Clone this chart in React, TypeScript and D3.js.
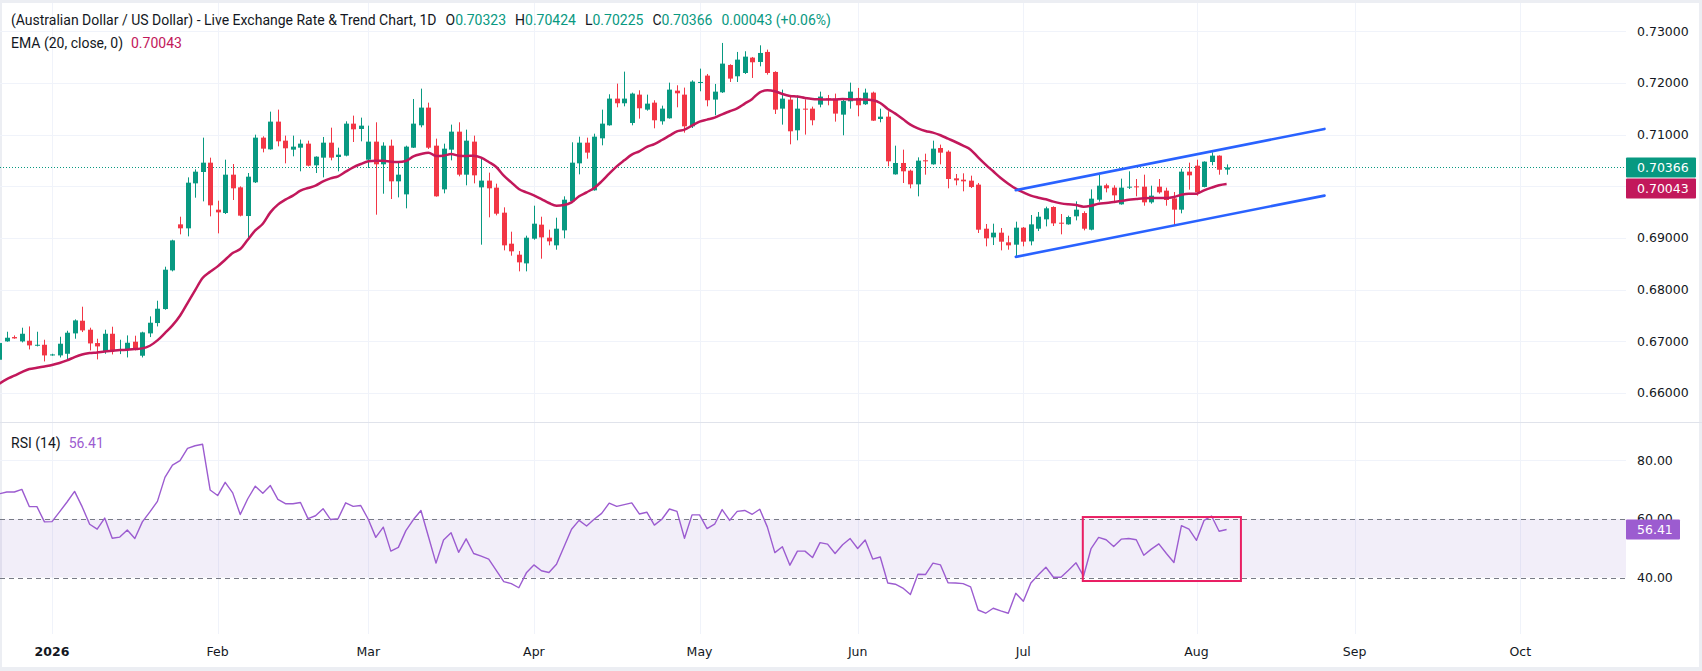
import * as d3 from "d3";

const WIDTH = 1702;
const HEIGHT = 671;

// bar 0 = 1 Jan 2026, one slot per weekday (daily FX bars)
const firstBar = -7;

const opens = [
  0.66645, 0.67, 0.67084, 0.67, 0.67013, 0.66916, 0.66935, 0.66729, 0.66729, 0.66761,
  0.67155, 0.674, 0.67226, 0.66968, 0.66806, 0.67148, 0.66819, 0.66839, 0.66994, 0.66723,
  0.67155, 0.67355, 0.67626, 0.68374, 0.69264, 0.69187, 0.70057, 0.70277, 0.70457, 0.69548,
  0.69483, 0.70225, 0.6998, 0.69425, 0.70077, 0.70941, 0.70715, 0.71251, 0.70883, 0.70709,
  0.70747, 0.70825, 0.70406, 0.70554, 0.70844, 0.70567, 0.70593, 0.71212, 0.71109, 0.70515,
  0.70864, 0.70425, 0.70786, 0.70096, 0.69844, 0.70747, 0.7118, 0.71522, 0.70786, 0.69941,
  0.70709, 0.71057, 0.70225, 0.70864, 0.6998, 0.7011, 0.69974, 0.6949, 0.6889, 0.68677,
  0.68509, 0.68987, 0.69258, 0.69006, 0.68858, 0.69148, 0.69709, 0.70444, 0.70844, 0.69922,
  0.70928, 0.7118, 0.71696, 0.71606, 0.71225, 0.71773, 0.71483, 0.71618, 0.71257, 0.71315,
  0.7185, 0.71773, 0.7116, 0.71999, 0.72141, 0.71677, 0.71818, 0.72347, 0.72128, 0.72192,
  0.72489, 0.72405, 0.72599, 0.72212, 0.71502, 0.71677, 0.71083, 0.71502, 0.71502, 0.7158,
  0.71702, 0.71696, 0.71386, 0.71644, 0.7171, 0.71587, 0.71812, 0.71302, 0.71347, 0.70231,
  0.70451, 0.70302, 0.70038, 0.70503, 0.70425, 0.70741, 0.7067, 0.70154, 0.70128, 0.70109,
  0.70032, 0.6918, 0.69012, 0.69103, 0.68916, 0.68871, 0.692, 0.68935, 0.6918, 0.69361,
  0.696, 0.69296, 0.69264, 0.69419, 0.69483, 0.69161, 0.69741, 0.70019, 0.69974, 0.69651,
  0.69974, 0.69999, 0.69993, 0.6969, 0.69993, 0.69916, 0.69767, 0.69548, 0.70283, 0.70399,
  0.69987, 0.7047, 0.70593, 0.70323,
];

const highs = [
  0.67, 0.67187, 0.67116, 0.67265, 0.6729, 0.67187, 0.67032, 0.66761, 0.6709, 0.67206,
  0.67426, 0.67671, 0.67265, 0.67052, 0.67226, 0.67284, 0.67032, 0.67116, 0.6711, 0.67187,
  0.67484, 0.67787, 0.68445, 0.68967, 0.69412, 0.70173, 0.70328, 0.70941, 0.70554, 0.69722,
  0.70515, 0.70431, 0.69999, 0.70257, 0.70999, 0.70967, 0.71444, 0.71483, 0.7098, 0.7098,
  0.70903, 0.70883, 0.7058, 0.70954, 0.71134, 0.70747, 0.71257, 0.71367, 0.71328, 0.71173,
  0.71238, 0.70851, 0.70903, 0.70464, 0.70786, 0.71689, 0.71889, 0.71618, 0.70922, 0.70825,
  0.71193, 0.71238, 0.71096, 0.7098, 0.70535, 0.70264, 0.70051, 0.69593, 0.69122, 0.68748,
  0.69045, 0.69625, 0.69412, 0.69161, 0.69393, 0.69806, 0.70851, 0.7096, 0.70941, 0.71018,
  0.71483, 0.7178, 0.71986, 0.72218, 0.71812, 0.71857, 0.71773, 0.71664, 0.7156, 0.72005,
  0.71954, 0.71909, 0.7205, 0.72276, 0.72173, 0.7198, 0.72773, 0.7236, 0.72599, 0.72612,
  0.72502, 0.72727, 0.72644, 0.72225, 0.7187, 0.71741, 0.71754, 0.71683, 0.71541, 0.71831,
  0.71767, 0.71793, 0.71696, 0.72005, 0.71903, 0.71889, 0.71831, 0.71502, 0.71451, 0.70786,
  0.70709, 0.70322, 0.7056, 0.70631, 0.70883, 0.70806, 0.70696, 0.70238, 0.70251, 0.70206,
  0.70064, 0.69271, 0.69277, 0.69193, 0.69045, 0.69316, 0.69213, 0.69445, 0.69503, 0.69606,
  0.69613, 0.69464, 0.69432, 0.69709, 0.69516, 0.69941, 0.70219, 0.70051, 0.70019, 0.70148,
  0.7029, 0.70141, 0.70225, 0.70012, 0.70141, 0.69974, 0.6989, 0.70341, 0.70457, 0.70515,
  0.70483, 0.70657, 0.70599, 0.70424,
];

const lows = [
  0.66568, 0.66994, 0.67052, 0.66981, 0.66845, 0.66903, 0.66613, 0.66723, 0.6669, 0.66658,
  0.67052, 0.67181, 0.66826, 0.66652, 0.66761, 0.66748, 0.66755, 0.6669, 0.66826, 0.6669,
  0.67084, 0.6729, 0.67613, 0.68355, 0.69071, 0.69032, 0.6978, 0.69709, 0.69419, 0.6909,
  0.69464, 0.69735, 0.69419, 0.68987, 0.70064, 0.70657, 0.70709, 0.70773, 0.70444, 0.7058,
  0.7029, 0.70386, 0.70257, 0.70173, 0.70502, 0.7029, 0.7058, 0.70857, 0.7087, 0.70354,
  0.69451, 0.69857, 0.69754, 0.69786, 0.69574, 0.70741, 0.71141, 0.70722, 0.698, 0.69864,
  0.70502, 0.70193, 0.70019, 0.70057, 0.68871, 0.694, 0.69438, 0.68761, 0.68658, 0.68355,
  0.68355, 0.68967, 0.686, 0.68858, 0.68774, 0.68993, 0.6969, 0.70231, 0.70535, 0.69916,
  0.70793, 0.71173, 0.71528, 0.71547, 0.7118, 0.71309, 0.71463, 0.71122, 0.71193, 0.71309,
  0.71528, 0.71038, 0.71128, 0.71838, 0.71547, 0.71374, 0.71806, 0.72018, 0.72018, 0.72173,
  0.72096, 0.72321, 0.7216, 0.71399, 0.71193, 0.70812, 0.7089, 0.71, 0.7118, 0.71528,
  0.71567, 0.71251, 0.70987, 0.71502, 0.71354, 0.71574, 0.71264, 0.71238, 0.70386, 0.70225,
  0.70064, 0.69961, 0.69806, 0.70225, 0.70419, 0.70425, 0.69961, 0.70019, 0.69903, 0.69967,
  0.69097, 0.68839, 0.68864, 0.68761, 0.68774, 0.68651, 0.68839, 0.68858, 0.69135, 0.69225,
  0.69232, 0.69071, 0.69258, 0.69341, 0.69148, 0.69148, 0.69703, 0.69883, 0.69709, 0.69645,
  0.69948, 0.69806, 0.69625, 0.69664, 0.69857, 0.69625, 0.69245, 0.69477, 0.69935, 0.69819,
  0.6998, 0.70406, 0.70225, 0.70225,
];

const closes = [
  0.66968, 0.67071, 0.67058, 0.67148, 0.66923, 0.66935, 0.66729, 0.66748, 0.66955, 0.67168,
  0.67406, 0.67213, 0.66961, 0.66903, 0.67148, 0.66813, 0.66852, 0.66974, 0.66839, 0.67174,
  0.67361, 0.67632, 0.68387, 0.68954, 0.69187, 0.7007, 0.70283, 0.70457, 0.69632, 0.69496,
  0.70225, 0.69961, 0.69432, 0.70186, 0.70941, 0.70728, 0.71251, 0.7087, 0.70735, 0.70767,
  0.70825, 0.70399, 0.70573, 0.70844, 0.70554, 0.70612, 0.71212, 0.71102, 0.71173, 0.70864,
  0.70425, 0.70786, 0.70096, 0.70225, 0.70767, 0.71212, 0.71522, 0.70747, 0.69806, 0.70728,
  0.71057, 0.70225, 0.70883, 0.70212, 0.7011, 0.69961, 0.6947, 0.68858, 0.68742, 0.68529,
  0.69006, 0.69277, 0.69012, 0.68935, 0.6918, 0.69741, 0.70457, 0.70844, 0.70651, 0.7096,
  0.71212, 0.71696, 0.71606, 0.71696, 0.71793, 0.71509, 0.71599, 0.71277, 0.71502, 0.7187,
  0.71799, 0.7116, 0.72025, 0.72018, 0.71664, 0.71831, 0.72373, 0.72083, 0.7245, 0.72508,
  0.72399, 0.72579, 0.72192, 0.71483, 0.71696, 0.71064, 0.71502, 0.71489, 0.71277, 0.71735,
  0.7167, 0.71406, 0.71651, 0.71831, 0.71567, 0.71812, 0.7127, 0.71347, 0.70483, 0.70451,
  0.7029, 0.70038, 0.70496, 0.70483, 0.70728, 0.70651, 0.70141, 0.70115, 0.70096, 0.69986,
  0.69161, 0.68993, 0.69103, 0.68929, 0.68858, 0.692, 0.68929, 0.69264, 0.69412, 0.69574,
  0.69283, 0.69283, 0.69406, 0.69548, 0.6918, 0.69761, 0.70012, 0.69961, 0.69825, 0.69974,
  0.69993, 0.69986, 0.6969, 0.69819, 0.69883, 0.69735, 0.69548, 0.70283, 0.70212, 0.69883,
  0.70477, 0.70593, 0.7032, 0.70366,
];

const emaValues = [
  0.66181, 0.66271, 0.66336, 0.66407, 0.66465, 0.6649, 0.66516, 0.66542, 0.66581, 0.66632,
  0.66697, 0.66748, 0.66774, 0.66787, 0.66806, 0.66819, 0.66832, 0.66839, 0.66852, 0.66865,
  0.66916, 0.67019, 0.67161, 0.6731, 0.67497, 0.67742, 0.67987, 0.68226, 0.68348, 0.68451,
  0.6858, 0.68709, 0.68787, 0.68967, 0.69148, 0.69277, 0.69496, 0.69645, 0.69741, 0.69819,
  0.69916, 0.69967, 0.70012, 0.70096, 0.70154, 0.70193, 0.70283, 0.70367, 0.70431, 0.70483,
  0.70496, 0.70496, 0.70477, 0.7047, 0.70489, 0.7058, 0.70625, 0.70651, 0.70586, 0.70593,
  0.70625, 0.70593, 0.70586, 0.70593, 0.70554, 0.7047, 0.70374, 0.70206, 0.70077, 0.69948,
  0.69883, 0.69825, 0.69754, 0.69677, 0.69625, 0.69638, 0.6969, 0.69806, 0.69883, 0.69967,
  0.70096, 0.70244, 0.70386, 0.70502, 0.70612, 0.70677, 0.70761, 0.70818, 0.70896, 0.7098,
  0.71064, 0.71096, 0.71173, 0.71251, 0.7129, 0.71328, 0.71393, 0.71451, 0.71509, 0.71599,
  0.7169, 0.71818, 0.71857, 0.71838, 0.71786, 0.71748, 0.71735, 0.71709, 0.7169, 0.71683,
  0.71677, 0.71677, 0.7169, 0.71683, 0.71677, 0.71677, 0.71664, 0.71612, 0.71496, 0.71406,
  0.71302, 0.71193, 0.71122, 0.7107, 0.71038, 0.70987, 0.70922, 0.70857, 0.70786, 0.70709,
  0.7056, 0.70419, 0.7029, 0.70161, 0.70051, 0.69954, 0.69883, 0.69819, 0.6978, 0.69748,
  0.69703, 0.6967, 0.69651, 0.69638, 0.69606, 0.69625, 0.69664, 0.69677, 0.69696, 0.69716,
  0.69741, 0.69754, 0.69767, 0.69774, 0.69774, 0.69774, 0.69793, 0.69838, 0.69857, 0.69857,
  0.69922, 0.69974, 0.70019, 0.70043,
];

const rsiValues = [
  68.6, 69.2, 69.2, 70.1, 64.2, 64.2, 59.0, 59.1, 62.4, 65.8,
  69.4, 64.2, 58.2, 56.5, 60.3, 53.4, 53.8, 56.2, 53.3, 59.0,
  62.4, 66.0, 74.2, 78.4, 79.9, 84.1, 85.0, 85.5, 69.9, 68.0,
  72.5, 68.9, 61.5, 66.9, 71.2, 68.8, 71.4, 66.7, 65.2, 65.2,
  65.6, 60.1, 61.1, 63.5, 59.8, 60.1, 65.5, 64.3, 64.6, 59.9,
  53.7, 57.2, 49.0, 50.3, 56.0, 59.8, 62.9, 53.9, 44.9, 52.8,
  55.3, 48.6, 53.2, 48.2, 47.3, 46.3, 42.4, 38.6, 37.9, 36.5,
  41.6, 44.3, 42.3, 41.7, 44.5, 50.5, 56.5, 59.5, 57.6, 59.9,
  61.9, 65.4, 64.3, 64.9, 65.5, 61.7, 62.3, 57.9, 59.9, 63.4,
  62.6, 53.4, 61.4, 61.4, 56.7, 58.2, 63.2, 59.5, 62.6, 62.9,
  61.6, 63.3, 57.3, 48.5, 50.5, 44.2, 49.0, 49.0, 46.8, 51.9,
  51.4, 48.2, 51.2, 53.3, 49.9, 52.8, 46.3, 47.0, 38.1, 37.7,
  36.4, 34.2, 41.1, 41.0, 44.9, 44.3, 38.2, 38.1, 37.9, 36.8,
  28.9, 27.8, 29.5, 28.6, 27.8, 34.6, 31.9, 38.1, 40.9, 43.5,
  40.1, 40.1, 42.5, 45.0, 40.5, 49.9, 53.7, 52.9, 50.6, 53.1,
  53.3, 52.9, 47.6, 49.7, 51.5, 48.2, 45.1, 57.7, 56.5, 52.7,
  59.5, 61.0, 55.8, 56.41,
];

// first trading bar of each month
const monthTicks = [
  { bar: 0, label: "2026" },
  { bar: 22, label: "Feb" },
  { bar: 42, label: "Mar" },
  { bar: 64, label: "Apr" },
  { bar: 86, label: "May" },
  { bar: 107, label: "Jun" },
  { bar: 129, label: "Jul" },
  { bar: 152, label: "Aug" },
  { bar: 173, label: "Sep" },
  { bar: 195, label: "Oct" },
];
const priceTicks = [0.66, 0.67, 0.68, 0.69, 0.7, 0.71, 0.72, 0.73];
const rsiTicks = [80, 60, 40];
const rsiBand = [40, 60];

// drawn annotations, in bar / price / RSI units
const channelBars = [128, 169];
const channelUpper = [0.69925, 0.7111];
const channelLower = [0.68635, 0.6982];
const rsiBoxBars = [136.9, 157.9];
const rsiBoxRange = [38.8, 60.65];

const GREEN = "#089981";
const RED = "#f23645";
const EMA_COLOR = "#c2185b";
const RSI_COLOR = "#9c5cd0";
const GRID = "#f0f3fa";
const TEXT = "#131722";
const AXIS_FONT = "DejaVu Sans";
const LEGEND_FONT = "Roboto";

export default function App() {
  const plotRight = 1626;
  const priceBottom = 422;
  const rsiBottom = 634;

  const x = d3.scaleLinear().domain([0, 152]).range([52, 1196.5]);
  const y = d3.scaleLinear().domain([0.66, 0.73]).range([393.1, 31.2]);
  const yRsi = d3.scaleLinear().domain([40, 80]).range([577.5, 460.4]);

  const bars = closes.map((c, k) => ({
    bar: firstBar + k,
    o: opens[k],
    h: highs[k],
    l: lows[k],
    c,
    ema: emaValues[k],
    rsi: rsiValues[k],
  }));
  const last = bars[bars.length - 1];

  const emaLine = d3
    .line<(typeof bars)[number]>()
    .x((d) => x(d.bar))
    .y((d) => y(d.ema))
    .curve(d3.curveMonotoneX);
  const rsiLine = d3
    .line<(typeof bars)[number]>()
    .x((d) => x(d.bar))
    .y((d) => yRsi(d.rsi));

  const fmt = d3.format(".5f");
  const change = last.c - last.o;
  const changePct = (change / last.o) * 100;

  const closeTagY = y(last.c);
  const emaTagY = Math.max(y(last.ema), closeTagY + 21);
  const rsiTagY = yRsi(last.rsi);

  return (
    <svg
      width={WIDTH}
      height={HEIGHT}
      style={{ position: "absolute", left: 0, top: 0, display: "block" }}
    >
      <defs>
        <clipPath id="pricePane">
          <rect x={0} y={0} width={plotRight} height={priceBottom} />
        </clipPath>
        <clipPath id="rsiPane">
          <rect x={0} y={priceBottom + 1} width={plotRight} height={rsiBottom - priceBottom - 1} />
        </clipPath>
      </defs>

      <rect width={WIDTH} height={HEIGHT} fill="#eceef3" />
      <rect x={2} y={3} width={WIDTH - 5} height={HEIGHT - 7} fill="#ffffff" />

      {/* grid */}
      {priceTicks.map((p) => (
        <line key={p} x1={0} x2={plotRight} y1={Math.round(y(p)) + 0.5} y2={Math.round(y(p)) + 0.5} stroke={GRID} />
      ))}
      <line x1={0} x2={plotRight} y1={Math.round(yRsi(80)) + 0.5} y2={Math.round(yRsi(80)) + 0.5} stroke={GRID} />
      {monthTicks.map((m) => (
        <line key={m.label} x1={Math.round(x(m.bar)) + 0.5} x2={Math.round(x(m.bar)) + 0.5} y1={3} y2={rsiBottom} stroke={GRID} />
      ))}
      <line x1={0} x2={WIDTH} y1={priceBottom + 0.5} y2={priceBottom + 0.5} stroke="#e0e3eb" />

      {/* price pane */}
      <g clipPath="url(#pricePane)">
        <line
          x1={0}
          x2={plotRight}
          y1={Math.round(closeTagY) + 0.5}
          y2={Math.round(closeTagY) + 0.5}
          stroke={GREEN}
          strokeDasharray="1 2"
        />
        {bars.map((d) => {
          const cx = Math.round(x(d.bar));
          const color = d.c >= d.o ? GREEN : RED;
          const top = y(Math.max(d.o, d.c));
          const bottom = y(Math.min(d.o, d.c));
          return (
            <g key={d.bar}>
              <rect x={cx} y={y(d.h)} width={1} height={y(d.l) - y(d.h)} fill={color} />
              <rect x={cx - 2} y={top} width={5} height={Math.max(1, bottom - top)} fill={color} />
            </g>
          );
        })}
        <path d={emaLine(bars) ?? ""} fill="none" stroke={EMA_COLOR} strokeWidth={2.5} strokeLinejoin="round" />
        <line
          x1={x(channelBars[0])}
          x2={x(channelBars[1])}
          y1={y(channelUpper[0])}
          y2={y(channelUpper[1])}
          stroke="#2962ff"
          strokeWidth={2.6}
          strokeLinecap="round"
        />
        <line
          x1={x(channelBars[0])}
          x2={x(channelBars[1])}
          y1={y(channelLower[0])}
          y2={y(channelLower[1])}
          stroke="#2962ff"
          strokeWidth={2.6}
          strokeLinecap="round"
        />
      </g>

      {/* rsi pane */}
      <g clipPath="url(#rsiPane)">
        <rect
          x={0}
          width={plotRight}
          y={yRsi(rsiBand[1])}
          height={yRsi(rsiBand[0]) - yRsi(rsiBand[1])}
          fill="rgba(126, 87, 194, 0.1)"
        />
        {rsiBand.map((v) => (
          <line
            key={v}
            x1={0}
            x2={plotRight}
            y1={Math.round(yRsi(v)) + 0.5}
            y2={Math.round(yRsi(v)) + 0.5}
            stroke="#787b86"
            strokeDasharray="5 4"
          />
        ))}
        <path d={rsiLine(bars) ?? ""} fill="none" stroke={RSI_COLOR} strokeWidth={1.4} strokeLinejoin="round" />
        <rect
          x={x(rsiBoxBars[0])}
          y={yRsi(rsiBoxRange[1])}
          width={x(rsiBoxBars[1]) - x(rsiBoxBars[0])}
          height={yRsi(rsiBoxRange[0]) - yRsi(rsiBoxRange[1])}
          fill="none"
          stroke="#e91e63"
          strokeWidth={2}
        />
      </g>

      {/* right axis */}
      <g fontFamily={AXIS_FONT} fontSize={12.5} fill={TEXT}>
        {priceTicks.map((p) => (
          <text key={p} x={1637} y={y(p)} dy="0.35em">
            {fmt(p)}
          </text>
        ))}
        {rsiTicks.map((v) => (
          <text key={v} x={1637} y={yRsi(v)} dy="0.35em">
            {v.toFixed(2)}
          </text>
        ))}
      </g>
      <g fontFamily={AXIS_FONT} fontSize={12.5} fill="#ffffff">
        <rect x={plotRight} y={closeTagY - 10} width={70} height={20} rx={1} fill={GREEN} />
        <text x={1637} y={closeTagY} dy="0.35em">
          {fmt(last.c)}
        </text>
        <rect x={plotRight} y={emaTagY - 10} width={70} height={20} rx={1} fill={EMA_COLOR} />
        <text x={1637} y={emaTagY} dy="0.35em">
          {fmt(last.ema)}
        </text>
        <rect x={plotRight} y={rsiTagY - 10} width={54} height={20} rx={1} fill={RSI_COLOR} />
        <text x={1637} y={rsiTagY} dy="0.35em">
          {last.rsi.toFixed(2)}
        </text>
      </g>

      {/* time axis */}
      <g fontFamily={AXIS_FONT} fontSize={12.5} fill={TEXT} textAnchor="middle">
        {monthTicks.map((m, i) => (
          <text key={m.label} x={x(m.bar)} y={656} fontWeight={i === 0 ? "bold" : "normal"}>
            {m.label}
          </text>
        ))}
      </g>

      {/* legends */}
      <g fontFamily={LEGEND_FONT} fontSize={14} fill={TEXT}>
        <text x={11} y={25}>
          (Australian Dollar / US Dollar) - Live Exchange Rate &amp; Trend Chart, 1D
          <tspan dx={9}>O</tspan>
          <tspan fill={GREEN}>{fmt(last.o)}</tspan>
          <tspan dx={9}>H</tspan>
          <tspan fill={GREEN}>{fmt(last.h)}</tspan>
          <tspan dx={9}>L</tspan>
          <tspan fill={GREEN}>{fmt(last.l)}</tspan>
          <tspan dx={9}>C</tspan>
          <tspan fill={GREEN}>{fmt(last.c)}</tspan>
          <tspan dx={9} fill={GREEN}>
            {fmt(change)} (+{changePct.toFixed(2)}%)
          </tspan>
        </text>
        <text x={11} y={48}>
          EMA (20, close, 0)
          <tspan dx={8} fill={EMA_COLOR}>
            {fmt(last.ema)}
          </tspan>
        </text>
        <text x={11} y={448}>
          RSI (14)
          <tspan dx={8} fill={RSI_COLOR}>
            {last.rsi.toFixed(2)}
          </tspan>
        </text>
      </g>
    </svg>
  );
}
